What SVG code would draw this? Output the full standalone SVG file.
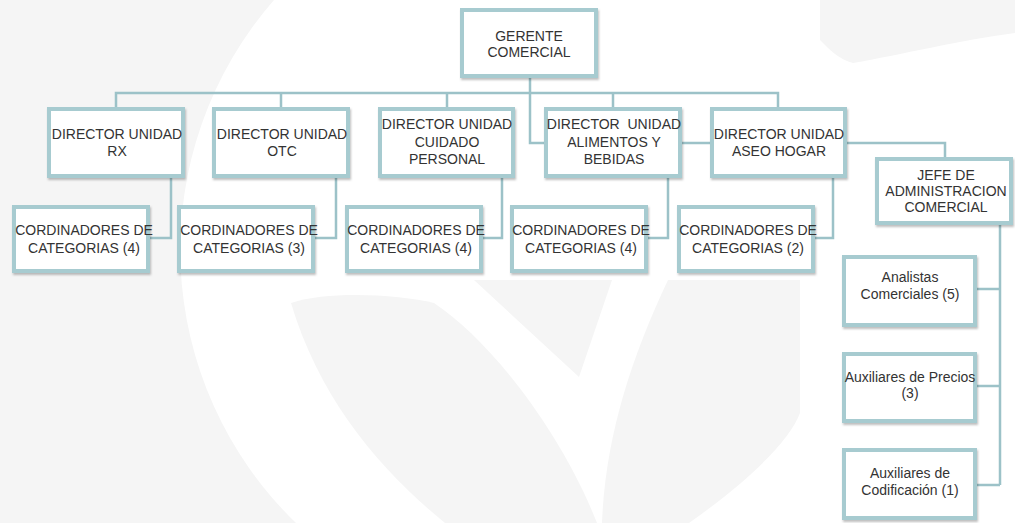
<svg xmlns="http://www.w3.org/2000/svg" width="1015" height="523" viewBox="0 0 1015 523">
<defs>
<filter id="sh" x="-10%" y="-10%" width="125%" height="130%">
<feDropShadow dx="1" dy="2" stdDeviation="1.2" flood-color="#000" flood-opacity="0.25"/>
</filter>
<style>
.bx{fill:#fff;stroke:#a7cbd0;stroke-width:4;filter:url(#sh)}
.ln{fill:none;stroke:#9cc2c8;stroke-width:2.5}
.t{font-family:"Liberation Sans",Arial,sans-serif;font-size:14px;fill:#333;text-anchor:middle;white-space:pre}
.bg{fill:#f5f5f5}
</style>
</defs>
<rect width="1015" height="523" fill="#fff"/>
<g id="background">
<path class="bg" d="M0,0 H274 A380,380 0 0 0 296,523 H0 Z"/>
<path class="bg" d="M291,303 C330,290 400,295 434,303 C490,340 560,430 597,523 L445,523 C380,470 320,400 291,303 Z"/>
<path class="bg" d="M474,280 L612,280 L579,377 Z"/>
<path class="bg" d="M668,280 C630,360 605,440 602,523 L689,523 C750,480 790,440 800,413 L800,280 Z"/>
<path class="bg" d="M820,0 H1015 V33 C960,40 900,55 853,63 C840,60 830,50 820,40 Z"/>
</g>
<g id="connectors">
<path class="ln" d="M530,78 V143 H945 V157"/>
<path class="ln" d="M116,107 V93 H778 V107"/>
<path class="ln" d="M281,93 V107 M447,93 V107 M613,93 V107"/>
<path class="ln" d="M171,178 V238 H150"/>
<path class="ln" d="M336,178 V238 H315"/>
<path class="ln" d="M502,178 V238 H483"/>
<path class="ln" d="M668,178 V238 H648"/>
<path class="ln" d="M833,178 V238 H815"/>
<path class="ln" d="M1000,225 V485 M1000,289 H977 M1000,386 H977 M1000,485 H977"/>
</g>
<g id="gerente">
<rect class="bx" x="462" y="10" width="134" height="66"/>
<text class="t" x="529" y="41">GERENTE</text>
<text class="t" x="529" y="57">COMERCIAL</text>
</g>
<g id="dir-rx">
<rect class="bx" x="49" y="109" width="134" height="67"/>
<text class="t" x="117" y="139">DIRECTOR UNIDAD</text>
<text class="t" x="117" y="156">RX</text>
</g>
<g id="dir-otc">
<rect class="bx" x="214" y="109" width="134" height="67"/>
<text class="t" x="282" y="139">DIRECTOR UNIDAD</text>
<text class="t" x="282" y="156">OTC</text>
</g>
<g id="dir-cuidado">
<rect class="bx" x="380" y="109" width="133" height="67"/>
<text class="t" x="447" y="129">DIRECTOR UNIDAD</text>
<text class="t" x="447" y="147">CUIDADO</text>
<text class="t" x="447" y="164">PERSONAL</text>
</g>
<g id="dir-alimentos">
<rect class="bx" x="546" y="109" width="134" height="67"/>
<text class="t" x="614" y="129" xml:space="preserve">DIRECTOR  UNIDAD</text>
<text class="t" x="614" y="147">ALIMENTOS Y</text>
<text class="t" x="614" y="164">BEBIDAS</text>
</g>
<g id="dir-aseo">
<rect class="bx" x="712" y="109" width="133" height="67"/>
<text class="t" x="779" y="139">DIRECTOR UNIDAD</text>
<text class="t" x="779" y="156">ASEO HOGAR</text>
</g>
<g id="coord-rx">
<rect class="bx" x="14" y="207" width="134" height="64"/>
<text class="t" x="84" y="235">CORDINADORES DE</text>
<text class="t" x="84" y="253">CATEGORIAS (4)</text>
</g>
<g id="coord-otc">
<rect class="bx" x="179" y="207" width="134" height="64"/>
<text class="t" x="249" y="235">CORDINADORES DE</text>
<text class="t" x="249" y="253">CATEGORIAS (3)</text>
</g>
<g id="coord-cuidado">
<rect class="bx" x="347" y="207" width="134" height="64"/>
<text class="t" x="416" y="235">CORDINADORES DE</text>
<text class="t" x="416" y="253">CATEGORIAS (4)</text>
</g>
<g id="coord-alimentos">
<rect class="bx" x="512" y="207" width="134" height="64"/>
<text class="t" x="581" y="235">CORDINADORES DE</text>
<text class="t" x="581" y="253">CATEGORIAS (4)</text>
</g>
<g id="coord-aseo">
<rect class="bx" x="679" y="207" width="134" height="64"/>
<text class="t" x="748" y="235">CORDINADORES DE</text>
<text class="t" x="748" y="253">CATEGORIAS (2)</text>
</g>
<g id="jefe">
<rect class="bx" x="877" y="159" width="134" height="64"/>
<text class="t" x="946" y="180">JEFE DE</text>
<text class="t" x="946" y="196">ADMINISTRACION</text>
<text class="t" x="946" y="212">COMERCIAL</text>
</g>
<g id="analistas">
<rect class="bx" x="844" y="257" width="131" height="68"/>
<text class="t" x="910" y="282">Analistas</text>
<text class="t" x="910" y="299">Comerciales (5)</text>
</g>
<g id="aux-precios">
<rect class="bx" x="844" y="354" width="131" height="67"/>
<text class="t" x="910" y="382">Auxiliares de Precios</text>
<text class="t" x="910" y="398">(3)</text>
</g>
<g id="aux-codif">
<rect class="bx" x="844" y="450" width="131" height="68"/>
<text class="t" x="910" y="478">Auxiliares de</text>
<text class="t" x="910" y="495">Codificación (1)</text>
</g>
</svg>
